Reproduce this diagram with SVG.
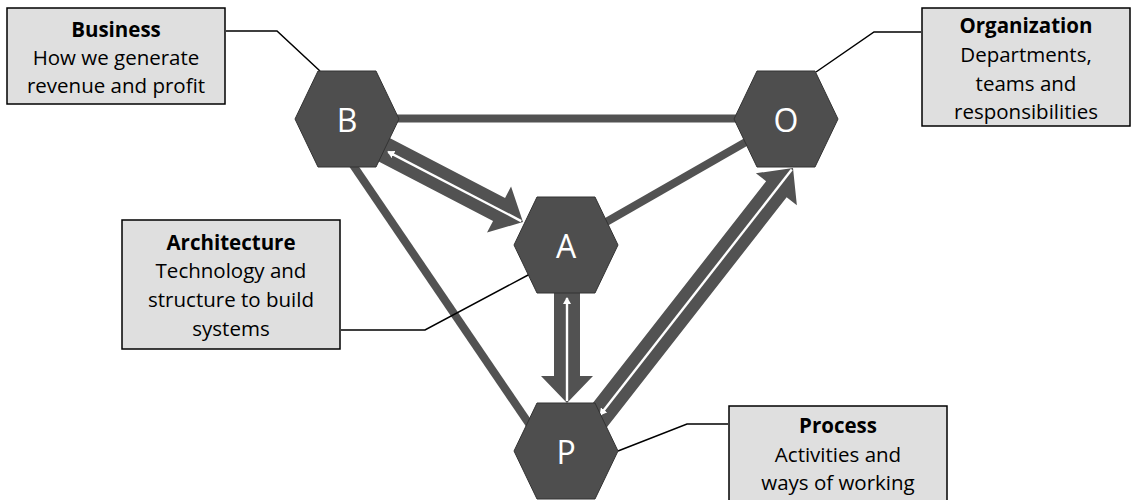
<svg xmlns="http://www.w3.org/2000/svg" width="1132" height="500" viewBox="0 0 1132 500">
  <style>
    .link { stroke: #525252; stroke-width: 8; fill: none; }
    .block { fill: #525252; }
    .back { stroke: #ffffff; stroke-width: 2.4; fill: none; marker-end: url(#backHead); }
    .leader { stroke: #000000; stroke-width: 1.5; fill: none; }
    .hex { fill: #4e4e4e; stroke: #333333; stroke-width: 1; }
    .letter { font-family: "Open Sans", "Liberation Sans", sans-serif; font-size: 32px; fill: #ffffff; text-anchor: middle; }
    .box { fill: #dfdfdf; stroke: #000000; stroke-width: 1.5; }
    .txt { font-family: "Open Sans", "Liberation Sans", sans-serif; font-size: 20.5px; fill: #000000; text-anchor: middle; }
    .ttl { font-weight: bold; }
  </style>
  <defs>
    <!-- hexagon centred on the origin -->
    <polygon id="hexShape" points="-52,0 -29,-48 29,-48 52,0 29,48 -29,48"/>
    <!-- small white head at the source end of each return line -->
    <marker id="backHead" markerUnits="userSpaceOnUse" markerWidth="8" markerHeight="8" refX="6" refY="4" orient="auto">
      <path d="M0,0 L7,4 L0,8 Z" fill="#ffffff"/>
    </marker>
  </defs>

  <g id="connectors">
    <!-- plain links -->
    <line class="link" x1="347" y1="118.5" x2="786" y2="118.5"/>
    <line class="link" x1="786" y1="119" x2="566" y2="245"/>
    <line class="link" x1="336" y1="140" x2="540" y2="440"/>

    <!-- B to A block arrow with return line -->
    <g transform="translate(523,222) rotate(27.5)">
      <path class="block" d="M-182,-13 L-27,-13 L-27,-26 L0,0 L-27,26 L-27,13 L-182,13 Z"/>
      <path class="back" d="M-2,0 L-152,0"/>
    </g>
    <!-- A to P block arrow with return line -->
    <g transform="translate(567,403) rotate(90)">
      <path class="block" d="M-130,-13 L-27,-13 L-27,-26 L0,0 L-27,26 L-27,13 L-130,13 Z"/>
      <path class="back" d="M-2,0 L-105,0"/>
    </g>
    <!-- P to O block arrow with return line -->
    <g transform="translate(793,168) rotate(-52)">
      <path class="block" d="M-345,-13 L-27,-13 L-27,-26 L0,0 L-27,26 L-27,13 L-345,13 Z"/>
      <path class="back" d="M-2,0 L-313,0"/>
    </g>

    <!-- leader lines from the captions -->
    <polyline class="leader" points="226,31 277,31 320,71"/>
    <polyline class="leader" points="921,32 874,32 816,72"/>
    <polyline class="leader" points="341,330 425,330 530,274"/>
    <polyline class="leader" points="728,424 687,424 618,451"/>
  </g>

  <g id="node-B">
    <use href="#hexShape" class="hex" transform="translate(347,119)"/>
    <text class="letter" x="347" y="132">B</text>
  </g>
  <g id="node-O">
    <use href="#hexShape" class="hex" transform="translate(786,119)"/>
    <text class="letter" x="786" y="132">O</text>
  </g>
  <g id="node-A">
    <use href="#hexShape" class="hex" transform="translate(566,245)"/>
    <text class="letter" x="566" y="258">A</text>
  </g>
  <g id="node-P">
    <use href="#hexShape" class="hex" transform="translate(566,451)"/>
    <text class="letter" x="566" y="464">P</text>
  </g>

  <g id="label-business">
    <rect class="box" x="7" y="8" width="218" height="96"/>
    <text class="txt ttl" x="116" y="37">Business</text>
    <text class="txt" x="116" y="65">How we generate</text>
    <text class="txt" x="116" y="93">revenue and profit</text>
  </g>
  <g id="label-organization">
    <rect class="box" x="922" y="8" width="208" height="118"/>
    <text class="txt ttl" x="1026" y="33">Organization</text>
    <text class="txt" x="1026" y="62">Departments,</text>
    <text class="txt" x="1026" y="91">teams and</text>
    <text class="txt" x="1026" y="119">responsibilities</text>
  </g>
  <g id="label-architecture">
    <rect class="box" x="122" y="220" width="218" height="129"/>
    <text class="txt ttl" x="231" y="250">Architecture</text>
    <text class="txt" x="231" y="278">Technology and</text>
    <text class="txt" x="231" y="307">structure to build</text>
    <text class="txt" x="231" y="336">systems</text>
  </g>
  <g id="label-process">
    <rect class="box" x="729" y="406" width="218" height="100"/>
    <text class="txt ttl" x="838" y="433">Process</text>
    <text class="txt" x="838" y="462">Activities and</text>
    <text class="txt" x="838" y="490">ways of working</text>
  </g>
</svg>
